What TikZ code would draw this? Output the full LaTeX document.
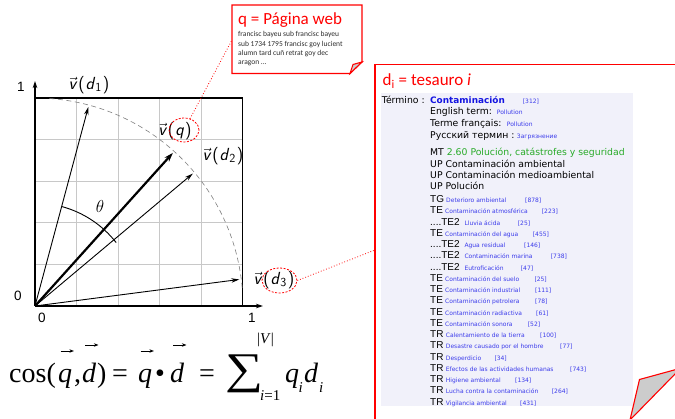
\documentclass[tikz,border=0pt]{standalone}
\usepackage{fontspec}
\usepackage{amsmath}
\usepackage{graphicx}
\usetikzlibrary{arrows.meta,shapes.geometric,calc}
\newfontfamily\calfont{Carlito}
\newfontfamily\verd{DejaVu Sans}
\newfontfamily\arl{Liberation Sans}
\newfontfamily\tmsf{Liberation Serif}
\newcommand\vv{\ensuremath{\vec{\text{\sffamily\itshape v}}}}
\newcommand\fourdots{....}
\definecolor{tred}{RGB}{255,0,0}
\definecolor{panel}{RGB}{241,241,250}
\definecolor{tblue}{RGB}{60,60,235}
\definecolor{cblue}{RGB}{20,20,225}
\definecolor{tgreen}{RGB}{40,170,40}
\definecolor{gridgray}{RGB}{200,200,200}
\definecolor{txtgray}{RGB}{45,45,45}
\tikzset{
  gridline/.style={draw=gridgray, line width=0.9pt},
  frame/.style={line width=1.3pt},
  axis/.style={line width=1.2pt, -{Stealth[length=7pt,width=4.5pt]}},
  vec/.style={line width=0.9pt, -{Stealth[length=8pt,width=4.5pt]}},
  qvec/.style={line width=2.2pt, -{Stealth[length=9pt,width=6pt]}},
  unitarc/.style={draw=gray, line width=0.6pt, dash pattern=on 5pt off 3.5pt},
  redcirc/.style={ellipse, draw=tred, line width=0.8pt, dash pattern=on 2pt off 1.5pt, inner sep=0},
  reddot/.style={draw=tred, line width=0.8pt, dotted},
  boxline/.style={draw=tred, line width=1.1pt},
  vlab/.style={inner sep=0, font=\sffamily\fontsize{17.5}{17.5}\selectfont},
  axlab/.style={inner sep=0, font=\arl\fontsize{13.5}{13.5}\selectfont},
  tag/.style={anchor=base west, inner sep=0, font=\arl\fontsize{10}{10}\selectfont},
  term/.style={anchor=base west, inner sep=0, text=tblue, font=\verd\fontsize{6}{6}\selectfont},
  mainl/.style={anchor=base west, inner sep=0, font=\verd\fontsize{9.3}{9.3}\selectfont},
  title/.style={anchor=base west, inner sep=0, text=tred, font=\calfont\fontsize{17}{17}\selectfont},
  qtext/.style={anchor=base west, inner sep=0, text=txtgray, font=\calfont\fontsize{7.5}{7.5}\selectfont},
  fml/.style={anchor=base west, inner sep=0, font=\tmsf\fontsize{28}{28}\selectfont},
  fmli/.style={anchor=base west, inner sep=0, font=\tmsf\itshape\fontsize{28}{28}\selectfont},
  fsub/.style={anchor=base west, inner sep=0, font=\tmsf\fontsize{15}{15}\selectfont},
  farrow/.style={line width=0.8pt, -{Stealth[length=4.5pt,width=3.5pt]}},
}
\begin{document}
\begin{tikzpicture}[x=1pt,y=-1pt]
\clip (0,0) rectangle (675,419);
\fill[white] (0,0) rectangle (675,419);

% ---------- vector space graph ----------
\begin{scope}[shift={(35,306)},y=1pt]
  \foreach \g in {41.6,83.2,124.8,166.4} {
    \draw[gridline] (\g,0) -- (\g,208);
    \draw[gridline] (0,\g) -- (207.5,\g);
  }
  \draw[frame] (0,208) -- (207.5,208) -- (207.5,0);
  \coordinate (O) at (0,0);
  \coordinate (ytip) at (0,225);
  \coordinate (xtip) at (228,0);
  \draw[axis] (O) -- (ytip);
  \draw[axis] (O) -- (xtip);
  \draw[unitarc] (86:208) arc[start angle=86,end angle=5,radius=208];
  \coordinate (d1) at (75:206);
  \coordinate (q) at (48:206);
  \coordinate (d2) at (40:206);
  \coordinate (d3) at (7.4:206);
  \draw[vec] (O) -- (d1);
  \draw[vec] (O) -- (d2);
  \draw[vec] (O) -- (d3);
  \draw[qvec] (O) -- (q);
  \draw[line width=0.9pt] (38:103) arc[start angle=38,end angle=75,radius=103];
  \node[font=\fontsize{16}{16}\selectfont] (theta) at (65,99) {$\theta$};
\end{scope}

\node[axlab] (y1) at (21,87) {1};
\node[axlab] (y0) at (18,296) {0};
\node[axlab] (x0) at (42,318) {0};
\node[axlab] (x1) at (252,318) {1};

\node[vlab] (ld1) at (89,85) {\vv\kern2pt(\kern1pt\textit{d}$_{\text{\sffamily 1}}$\kern1pt)};
\node[vlab] (lq) at (175,131) {\vv\kern2pt(\kern1pt\textit{q}\kern1pt)};
\node[vlab] (ld2) at (223,156) {\vv\kern2pt(\kern1pt\textit{d}$_{\text{\sffamily 2}}$\kern1pt)};
\node[vlab] (ld3) at (274,280) {\vv\kern2pt(\kern1pt\textit{d}$_{\text{\sffamily 3}}$\kern1pt)};

% ---------- formula ----------
\node[fml] (f1) at (9,383) {cos(};
\node[fmli] (f2) at (58,383) {q};
\node[fml] (f3) at (74,383) {,};
\node[fmli] (f4) at (82,383) {d};
\node[fml] (f5) at (97,383) {)};
\node[fml] (f6) at (112,383) {=};
\node[fmli] (f7) at (138,383) {q};
\node[fml] (f8) at (155,383) {•};
\node[fmli] (f9) at (170,383) {d};
\node[fml] (f10) at (199,383) {=};
\node[anchor=north west, inner sep=0] (f11) at (225,355) {\resizebox*{38pt}{38pt}{\tmsf ∑}};
\node[fsub] (f12) at (257,344) {|\textit{V}|};
\node[fsub] (f13) at (260,401) {\textit{i}=1};
\node[fmli] (f14) at (285,383) {q};
\node[fsub] (f15) at (298.5,393) {\textit{i}};
\node[fmli] (f16) at (304,383) {d};
\node[fsub] (f17) at (319,393) {\textit{i}};
\draw[farrow] ($(f2.base west)+(2.5,-32)$) -- ($(f2.base east)+(1.5,-32)$);
\draw[farrow] ($(f4.base west)+(3,-38)$) -- ($(f4.base east)+(2,-38)$);
\draw[farrow] ($(f7.base west)+(2.5,-32)$) -- ($(f7.base east)+(1.5,-32)$);
\draw[farrow] ($(f9.base west)+(3,-38)$) -- ($(f9.base east)+(2,-38)$);

% ---------- q box ----------
\draw[boxline, fill=white] (232,5) -- (362,5) -- (362,62) -- (350,73.5) -- (232,73.5) -- cycle;
\filldraw[boxline, fill=gray!40] (362,62) -- (350,73.5) -- (353,64.5) -- cycle;
\node[title] (qtitle) at (238,25) {q = Página web};
\node[qtext] (ql1) at (238,36.8) {francisc bayeu sub francisc bayeu};
\node[qtext] (ql2) at (238,46.1) {sub 1734 1795 francisc goy lucient};
\node[qtext] (ql3) at (238,55.4) {alumn tard cuñ retrat goy dec};
\node[qtext] (ql4) at (238,64.7) {aragon ...};

% ---------- d box ----------
\draw[boxline] (680,64.5) -- (375,64.5) -- (375,425);
\fill[panel] (381,93) rectangle (633,406.5);
\filldraw[boxline, fill=gray!40] (630,420) -- (639.5,379.5) -- (676,369.5) -- (676,373) -- cycle;
\node[title] (dtitle) at (382.5,85.5) {d\textsubscript{i} = tesauro \textit{i}};

\node[mainl] (term0) at (381.7,103.8) {Término :};
\node[anchor=base west, inner sep=0, text=cblue, font=\verd\bfseries\fontsize{8.9}{8.9}\selectfont] (cont) at (430,103.8) {Contaminación};
\node[term] (n312) at (522.7,103.8) {[312]};
\node[mainl] (eng) at (430,114.8) {English term:};
\node[term] (pol1) at (496.7,114.8) {Pollution};
\node[mainl] (fra) at (430,126.3) {Terme français:};
\node[term] (pol2) at (506.7,126.3) {Pollution};
\node[mainl] (rus) at (430,138.3) {Русский термин :};
\node[term] (zag) at (516.7,138.3) {Загрязнение};
\node[mainl] (mt) at (430,155.3) {MT \textcolor{tgreen}{2.60 Polución, catástrofes y seguridad}};
\node[mainl] (up1) at (430,167.3) {UP Contaminación ambiental};
\node[mainl] (up2) at (430,178.3) {UP Contaminación medioambiental};
\node[mainl] (up3) at (430,189.3) {UP Polución};

\foreach \k/\tg/\tx/\tm/\nx/\nm in {
  0/TG/446/Deterioro ambiental/525/878,
  1/TE/445/Contaminación atmosférica/541.7/223,
  2/\fourdots TE2/464.3/Lluvia ácida/517.7/25,
  3/TE/445/Contaminación del agua/532.7/455,
  4/\fourdots TE2/464.3/Agua residual/524/146,
  5/\fourdots TE2/464.3/Contaminación marina/550.7/738,
  6/\fourdots TE2/464.3/Eutroficación/520.7/47,
  7/TE/445/Contaminación del suelo/534.3/25,
  8/TE/445/Contaminación industrial/535/111,
  9/TE/445/Contaminación petrolera/535/78,
  10/TE/445/Contaminación radiactiva/536/61,
  11/TE/445/Contaminación sonora/527.7/52,
  12/TR/445.7/Calentamiento de la tierra/540/100,
  13/TR/445.7/Desastre causado por el hombre/560/77,
  14/TR/445.7/Desperdicio/494.3/34,
  15/TR/445.7/Efectos de las actividades humanas/570/743,
  16/TR/445.7/Higiene ambiental/515/134,
  17/TR/445.7/Lucha contra la contaminación/551.7/264,
  18/TR/445.7/Vigilancia ambiental/520/431}
{
  \pgfmathsetmacro\yy{199.3+11.25*\k+3.3}
  \node[tag] (tag\k) at (430,\yy) {\tg};
  \node[term] (term\k) at (\tx,\yy) {\tm};
  \node[term] (num\k) at (\nx,\yy) {[\nm]};
}

% ---------- highlight circles and connectors ----------
\node[redcirc, minimum width=30pt, minimum height=24pt] (qc) at (184,130) {};
\node[redcirc, minimum width=35pt, minimum height=25pt] (dc) at (279.5,280.5) {};
\coordinate (qa) at (232,40);
\coordinate (da) at (375,250);
\draw[reddot] (qc) -- (qa);
\draw[reddot] (dc.east) -- (da);
\end{tikzpicture}
\end{document}
